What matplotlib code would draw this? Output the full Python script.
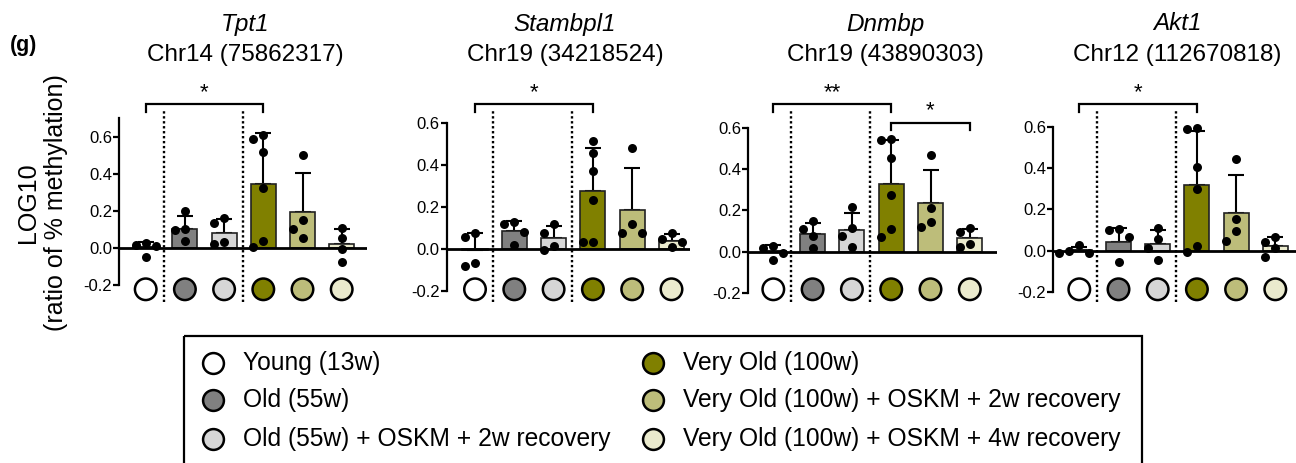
import numpy as np
import matplotlib
matplotlib.use("Agg")
import matplotlib.pyplot as plt
from matplotlib.patches import Rectangle
from matplotlib.transforms import blended_transform_factory

plt.rcParams['font.family'] = ['Liberation Sans', 'DejaVu Sans']

# ---------------- data ----------------
groups = ["Young (13w)", "Old (55w)", "Old (55w) + OSKM + 2w recovery",
          "Very Old (100w)", "Very Old (100w) + OSKM + 2w recovery",
          "Very Old (100w) + OSKM + 4w recovery"]
colors = ["#ffffff", "#808080", "#d6d6d6", "#808000", "#bdbd7a", "#eaeacd"]

genes = ["Tpt1", "Stambpl1", "Dnmbp", "Akt1"]
loci = ["Chr14 (75862317)", "Chr19 (34218524)", "Chr19 (43890303)", "Chr12 (112670818)"]

# bar means per group
tpt1_mean = [0.002, 0.103, 0.081, 0.342, 0.195, 0.018]
stambpl1_mean = [-0.006, 0.084, 0.051, 0.273, 0.186, 0.038]
dnmbp_mean = [0.003, 0.087, 0.105, 0.329, 0.234, 0.068]
akt1_mean = [0.005, 0.042, 0.032, 0.316, 0.184, 0.023]

# upper end of error bars (mean + SD)
tpt1_err_top = [0.032, 0.173, 0.157, 0.622, 0.404, 0.103]
stambpl1_err_top = [0.076, 0.133, 0.110, 0.481, 0.383, 0.068]
dnmbp_err_top = [0.031, 0.140, 0.189, 0.540, 0.395, 0.111]
akt1_err_top = [0.020, 0.111, 0.100, 0.581, 0.365, 0.065]

# individual points per group
tpt1_pts = [[0.027, -0.049, 0.013, 0.010],
            [0.099, 0.200, 0.095, 0.036],
            [0.135, 0.160, 0.020, 0.031],
            [0.590, 0.519, 0.609, 0.324, 0.038, 0.005],
            [0.503, 0.150, 0.101, 0.052],
            [0.108, 0.052, -0.079, -0.005]]
stambpl1_pts = [[0.073, 0.057, -0.083, -0.070],
                [0.116, 0.125, 0.081, 0.016],
                [0.120, 0.073, -0.006, 0.014],
                [0.513, 0.457, 0.371, 0.233, 0.033, 0.033],
                [0.478, 0.117, 0.075, 0.075],
                [0.044, 0.073, 0.032, 0.006]]
dnmbp_pts = [[0.027, -0.040, -0.005, 0.019],
             [0.108, 0.147, 0.076, 0.019],
             [0.216, 0.116, 0.076, 0.023],
             [0.544, 0.539, 0.455, 0.273, 0.073, 0.108],
             [0.466, 0.210, 0.119, 0.142],
             [0.113, 0.097, 0.037, 0.024]]
akt1_pts = [[0.000, -0.013, -0.013, 0.027],
            [0.068, 0.100, 0.103, -0.053],
            [0.056, 0.111, 0.011, -0.045],
            [0.595, 0.587, 0.403, 0.297, 0.023, -0.008],
            [0.445, 0.152, 0.095, 0.048],
            [0.068, 0.044, 0.011, -0.032]]

means = [tpt1_mean, stambpl1_mean, dnmbp_mean, akt1_mean]
err_tops = [tpt1_err_top, stambpl1_err_top, dnmbp_err_top, akt1_err_top]
points = [tpt1_pts, stambpl1_pts, dnmbp_pts, akt1_pts]

# significance brackets: (group a, group b, label)
brackets = [[(0, 3, "*")], [(0, 3, "*")], [(0, 3, "**"), (3, 5, "*")], [(0, 3, "*")]]
yticks = [-0.2, 0.0, 0.2, 0.4, 0.6]
ytick_labels = ["-0.2", "0.0", "0.2", "0.4", "0.6"]

# ---------------- layout (pixels) ----------------
W, H = 1296, 463
fig = plt.figure(figsize=(W / 100, H / 100), dpi=100)

def fx(x):
    return x / W

def fy(y):
    return 1 - y / H

AX_TOP, AX_BOT = 90, 305
# left px, right px, px per unit, zero px, first-group px, group spacing px, spine top
panels = [
    (119.0, 367.0, 185.0, 247.7, 145.7, 39.2, 0.7),
    (446.7, 690.0, 210.0, 248.7, 475.0, 39.3, 0.6),
    (748.0, 997.0, 206.7, 251.7, 773.3, 39.3, 0.6),
    (1053.3, 1296.0, 206.7, 250.7, 1079.3, 39.2, 0.6),
]
# bracket heights (data units): (bar level, tip level)
bracket_levels = [[(0.777, 0.735)], [(0.689, 0.652)], [(0.714, 0.677), (0.624, 0.589)], [(0.710, 0.672)]]
title_x = [245, 565, 885, 1177]


def swarm_offsets(vals, ppy, ppx, dmin=10.0, step_px=10.0):
    order = np.argsort(vals)[::-1]
    placed = []
    offs = np.zeros(len(vals))
    cands = [0, -1, 1, -2, 2, -3, 3]
    for i in order:
        y = vals[i] * ppy
        for k in cands:
            x = k * step_px
            if all(np.hypot(x - px, y - py) >= dmin for px, py in placed):
                offs[i] = x / ppx
                placed.append((x, y))
                break
    return offs


for p, (lpx, rpx, s, z, x0, dx, sp_top) in enumerate(panels):
    ax = fig.add_axes([fx(lpx), fy(AX_BOT), fx(rpx - lpx), (AX_BOT - AX_TOP) / H])
    ax.set_xlim((lpx - x0) / dx, (rpx - x0) / dx)
    ax.set_ylim((z - AX_BOT) / s, (z - AX_TOP) / s)
    ax.patch.set_visible(False)
    for side in ["top", "right", "bottom"]:
        ax.spines[side].set_visible(False)
    ax.spines["left"].set_bounds(-0.2, sp_top)
    ax.spines["left"].set_linewidth(1.6)
    ax.set_xticks([])
    ax.set_yticks(yticks)
    ax.set_yticklabels(ytick_labels, fontsize=12)
    ax.tick_params(axis="y", length=4, width=1.6, pad=1)

    x = np.arange(len(groups))
    m = np.array(means[p])
    et = np.array(err_tops[p])
    ax.errorbar(x, m, yerr=[np.zeros_like(m), et - m], fmt="none", ecolor="black",
                elinewidth=1.5, capsize=6, capthick=1.5, zorder=1)
    ax.bar(x, m, width=0.64, color=colors, edgecolor="#222222", linewidth=1.2, zorder=2)
    ax.axhline(0, color="black", lw=2.0, zorder=3)

    for g, vals in enumerate(points[p]):
        vals = np.array(vals)
        offs = swarm_offsets(vals, s, dx)
        ax.scatter(x[g] + offs, vals, s=42, color="black", zorder=4, linewidths=0, clip_on=False)

    # group colour circles under axis
    tr = blended_transform_factory(ax.transData, ax.transAxes)
    ax.scatter(x, np.full(len(x), (AX_BOT - 289.3) / (AX_BOT - AX_TOP)), s=15.5 ** 2,
               c=colors, edgecolors="black", linewidths=1.8, transform=tr, zorder=5, clip_on=False)

    # dotted separators
    for xs in (0.46, 2.47):
        ax.axvline(xs, ymin=(AX_BOT - 301.7) / (AX_BOT - AX_TOP), ymax=(AX_BOT - 110.7) / (AX_BOT - AX_TOP),
                   color="black", lw=1.7, linestyle=(0, (1, 1.1)), zorder=1)

    # significance brackets
    for (a, b, lab), (yb, yt) in zip(brackets[p], bracket_levels[p]):
        ax.plot([a, a, b, b], [yt, yb, yb, yt], color="black", lw=1.6, clip_on=False,
                solid_joinstyle="miter")
        ax.text((a + b) / 2, yb + 0.005, lab, ha="center", va="bottom", fontsize=16, clip_on=False)

    # titles
    fig.text(fx(title_x[p]), fy(24), genes[p], ha="center", va="center", fontsize=17.5, style="italic")
    fig.text(fx(title_x[p]), fy(55), loci[p], ha="center", va="center", fontsize=17.5)

# y label and panel letter
fig.text(fx(42), fy(203), "LOG10\n(ratio of % methylation)", rotation=90, ha="center", va="center",
         fontsize=18, multialignment="center", linespacing=1.2)
fig.text(fx(10), fy(46), "(g)", fontsize=15.5, fontweight="bold", ha="left", va="center")

# legend (drawn on an overlay axes in pixel coordinates)
lax = fig.add_axes([0, 0, 1, 1])
lax.set_xlim(0, W)
lax.set_ylim(H, 0)
lax.axis("off")
lax.add_patch(Rectangle((184, 336), 1142 - 184, 150, fill=False, edgecolor="black", lw=1.6, clip_on=True))
row_y = [363, 400, 439]
for i, (lab, c) in enumerate(zip(groups, colors)):
    col, row = divmod(i, 3)
    mx = 213 if col == 0 else 653
    tx = 243 if col == 0 else 683
    lax.scatter([mx], [row_y[row]], s=15 ** 2, c=[c], edgecolors="black", linewidths=1.8, zorder=3)
    lax.text(tx, row_y[row], lab, ha="left", va="center", fontsize=17.7)

fig.savefig("out.png", dpi=100)
